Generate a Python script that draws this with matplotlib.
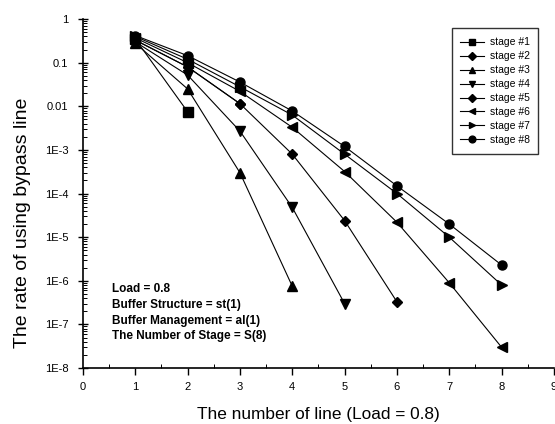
import matplotlib
matplotlib.use('Agg')
import matplotlib.pyplot as plt
from matplotlib.ticker import FixedLocator, LogLocator, NullFormatter

plt.rcParams['font.family'] = ['Liberation Sans', 'DejaVu Sans']

# bypass-line usage per number of lines, one list per stage
lines_1 = [1, 2]
stage_1 = [0.35, 0.0075]
lines_2 = [1, 2, 3]
stage_2 = [0.33, 0.08, 0.0115]
lines_3 = [1, 2, 3, 4]
stage_3 = [0.28, 0.025, 3.0e-4, 7.5e-7]
lines_4 = [1, 2, 3, 4, 5]
stage_4 = [0.30, 0.052, 2.7e-3, 4.8e-5, 3.0e-7]
lines_5 = [1, 2, 3, 4, 5, 6]
stage_5 = [0.33, 0.08, 0.0115, 8.0e-4, 2.4e-5, 3.3e-7]
lines_6 = [1, 2, 3, 4, 5, 6, 7, 8]
stage_6 = [0.37, 0.10, 0.022, 3.3e-3, 3.2e-4, 2.2e-5, 9.0e-7, 3.0e-8]
lines_7 = [1, 2, 3, 4, 5, 6, 7, 8]
stage_7 = [0.40, 0.12, 0.028, 6.3e-3, 8.0e-4, 1.0e-4, 1.0e-5, 8.0e-7]
lines_8 = [1, 2, 3, 4, 5, 6, 7, 8]
stage_8 = [0.42, 0.145, 0.036, 7.8e-3, 1.2e-3, 1.5e-4, 2.0e-5, 2.3e-6]

series = [(lines_1, stage_1, 's'), (lines_2, stage_2, 'D'),
          (lines_3, stage_3, '^'), (lines_4, stage_4, 'v'),
          (lines_5, stage_5, 'D'), (lines_6, stage_6, '<'),
          (lines_7, stage_7, '>'), (lines_8, stage_8, 'o')]
names = ['stage #%d' % i for i in range(1, 9)]

ytick_vals = [1, 0.1, 0.01, 1e-3, 1e-4, 1e-5, 1e-6, 1e-7, 1e-8]
ytick_text = ['1', '0.1', '0.01', '1E-3', '1E-4', '1E-5', '1E-6', '1E-7', '1E-8']
notes = ['Load = 0.8', 'Buffer Structure = st(1)',
         'Buffer Management = al(1)', 'The Number of Stage = S(8)']

fig = plt.figure(figsize=(5.55, 4.24), dpi=100)
ax = fig.add_axes([0.1495, 0.132, 0.8485, 0.823])

for (xs, ys, mk), name in zip(series, names):
    ms = 5.5 if mk == 'D' else 6.5
    ax.plot(xs, ys, color='black', lw=0.8, marker=mk, ms=ms, label=name)

ax.set_yscale('log')
ax.set_ylim(1e-8, 1)
ax.set_xlim(0, 9)
ax.set_xticks(range(10))
ax.set_yticks(ytick_vals)
ax.set_yticklabels(ytick_text)
ax.yaxis.set_minor_locator(LogLocator(base=10, subs=range(2, 10), numticks=20))
ax.yaxis.set_minor_formatter(NullFormatter())
ax.xaxis.set_minor_locator(FixedLocator([x + 0.5 for x in range(9)]))

ax.spines['top'].set_visible(False)
ax.spines['right'].set_visible(False)
ax.spines['left'].set_linewidth(1.2)
ax.spines['bottom'].set_linewidth(1.2)
ax.tick_params(axis='y', which='major', direction='inout', length=7, width=1,
               labelsize=8, pad=7)
ax.tick_params(axis='y', which='minor', direction='in', length=3, width=0.7)
ax.tick_params(axis='x', which='major', direction='out', length=5, width=1,
               labelsize=8, pad=5)
ax.tick_params(axis='x', which='minor', direction='in', length=3, width=0.7)

ax.set_ylabel('The rate of using bypass line', fontsize=14)
ax.yaxis.set_label_coords(-0.11, 0.415)
ax.set_xlabel('The number of line (Load = 0.8)', fontsize=12.4, labelpad=11)

for i, t in enumerate(notes):
    ax.text(0.062, 0.226 - i * 0.045, t, transform=ax.transAxes,
            fontsize=8.5, fontweight='bold', va='center')

leg = ax.legend(loc='upper left', bbox_to_anchor=(0.776, 0.982), fontsize=7.5,
                frameon=True, fancybox=False, edgecolor='black',
                handlelength=2.3, handletextpad=0.5, labelspacing=0.38,
                borderpad=0.85, borderaxespad=0.3, markerscale=0.75)
leg.get_frame().set_linewidth(1.0)

fig.savefig('out.png', dpi=100)
